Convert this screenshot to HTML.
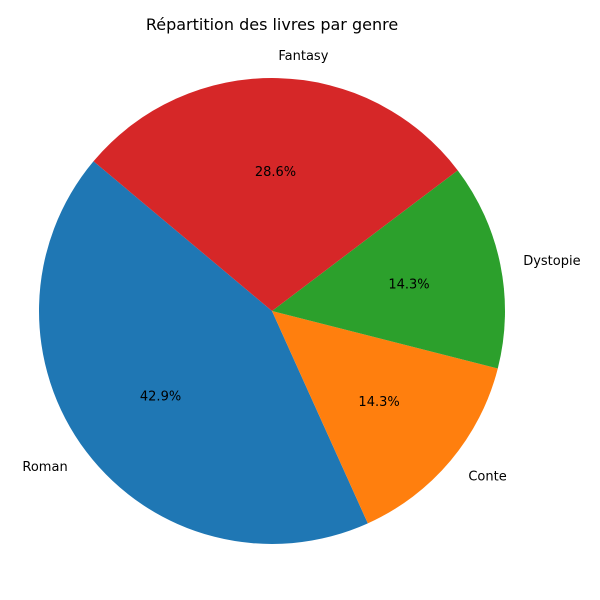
<!DOCTYPE html>
<html><head><meta charset="utf-8"><style>body{margin:0;background:#fff}svg{display:block}text{font-family:"DejaVu Sans","Liberation Sans",sans-serif}</style></head>
<body>
<svg id="c" width="600" height="600">
<text x="272" y="30" text-anchor="middle" font-size="16">Répartition des livres par genre</text>
</svg>
<script>
const categories = ["Roman", "Conte", "Dystopie", "Fantasy"];
const values = [3, 1, 1, 2];
const colors = ["#1f77b4", "#ff7f0e", "#2ca02c", "#d62728"];
const startAngle = 140;
const cx = 272, cy = 311, r = 233;
const svg = document.getElementById('c');
const ns = 'http://www.w3.org/2000/svg';
const total = values.reduce((a, b) => a + b, 0);
let a0 = startAngle;
function pt(deg, rad) { const t = deg * Math.PI / 180; return [cx + rad * Math.cos(t), cy - rad * Math.sin(t)]; }
values.forEach((v, i) => {
  const sweep = v / total * 360, a1 = a0 + sweep;
  const p0 = pt(a0, r), p1 = pt(a1, r);
  const path = document.createElementNS(ns, 'path');
  path.setAttribute('d', `M${cx},${cy}L${p0[0]},${p0[1]}A${r},${r} 0 ${sweep > 180 ? 1 : 0} 0 ${p1[0]},${p1[1]}Z`);
  path.setAttribute('fill', colors[i]);
  
  
  svg.appendChild(path);
  const mid = (a0 + a1) / 2;
  const lp = pt(mid, r * 1.1);
  const c = Math.cos(mid * Math.PI / 180);
  const lab = document.createElementNS(ns, 'text');
  lab.setAttribute('x', lp[0]); lab.setAttribute('y', lp[1] + 5);
  lab.setAttribute('font-size', '13');
  lab.setAttribute('text-anchor', c > 0.01 ? 'start' : (c < -0.01 ? 'end' : 'middle'));
  lab.textContent = categories[i];
  
  
  svg.appendChild(lab);
  const pp = pt(mid, r * 0.6);
  const pc = document.createElementNS(ns, 'text');
  pc.setAttribute('x', pp[0]); pc.setAttribute('y', pp[1] + 5);
  pc.setAttribute('font-size', '13');
  pc.setAttribute('text-anchor', 'middle');
  pc.textContent = (v / total * 100).toFixed(1) + '%';
  
  
  svg.appendChild(pc);
  a0 = a1;
});
</script>
</body></html>
